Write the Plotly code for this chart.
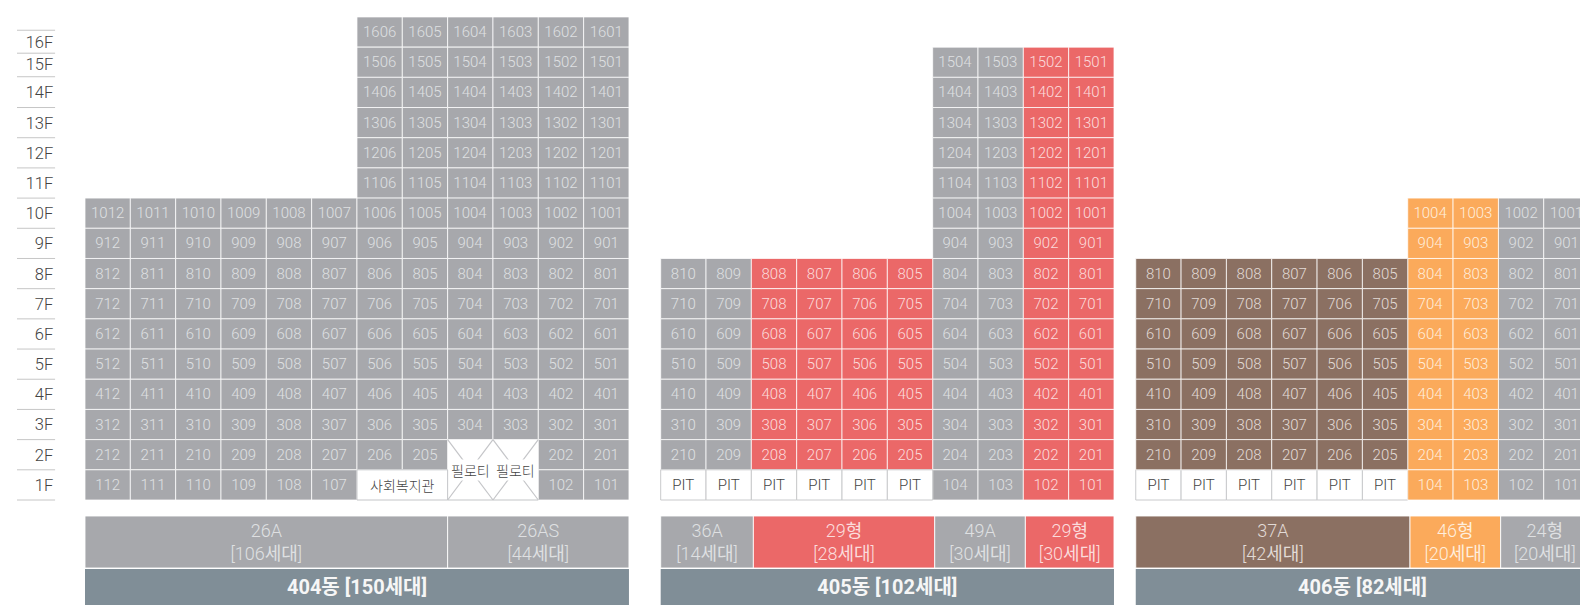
import plotly.graph_objects as go

# ---------- data ----------
B404_ROWS = {
    16: ["", "", "", "", "", "", "1606", "1605", "1604", "1603", "1602", "1601"],
    15: ["", "", "", "", "", "", "1506", "1505", "1504", "1503", "1502", "1501"],
    14: ["", "", "", "", "", "", "1406", "1405", "1404", "1403", "1402", "1401"],
    13: ["", "", "", "", "", "", "1306", "1305", "1304", "1303", "1302", "1301"],
    12: ["", "", "", "", "", "", "1206", "1205", "1204", "1203", "1202", "1201"],
    11: ["", "", "", "", "", "", "1106", "1105", "1104", "1103", "1102", "1101"],
    10: ["1012", "1011", "1010", "1009", "1008", "1007", "1006", "1005", "1004", "1003", "1002", "1001"],
    9: ["912", "911", "910", "909", "908", "907", "906", "905", "904", "903", "902", "901"],
    8: ["812", "811", "810", "809", "808", "807", "806", "805", "804", "803", "802", "801"],
    7: ["712", "711", "710", "709", "708", "707", "706", "705", "704", "703", "702", "701"],
    6: ["612", "611", "610", "609", "608", "607", "606", "605", "604", "603", "602", "601"],
    5: ["512", "511", "510", "509", "508", "507", "506", "505", "504", "503", "502", "501"],
    4: ["412", "411", "410", "409", "408", "407", "406", "405", "404", "403", "402", "401"],
    3: ["312", "311", "310", "309", "308", "307", "306", "305", "304", "303", "302", "301"],
    2: ["212", "211", "210", "209", "208", "207", "206", "205", "", "", "202", "201"],
    1: ["112", "111", "110", "109", "108", "107", "", "", "", "", "102", "101"],
}
B404_TYPES = ["gray"] * 12

B405_ROWS = {
    15: ["", "", "", "", "", "", "1504", "1503", "1502", "1501"],
    14: ["", "", "", "", "", "", "1404", "1403", "1402", "1401"],
    13: ["", "", "", "", "", "", "1304", "1303", "1302", "1301"],
    12: ["", "", "", "", "", "", "1204", "1203", "1202", "1201"],
    11: ["", "", "", "", "", "", "1104", "1103", "1102", "1101"],
    10: ["", "", "", "", "", "", "1004", "1003", "1002", "1001"],
    9: ["", "", "", "", "", "", "904", "903", "902", "901"],
    8: ["810", "809", "808", "807", "806", "805", "804", "803", "802", "801"],
    7: ["710", "709", "708", "707", "706", "705", "704", "703", "702", "701"],
    6: ["610", "609", "608", "607", "606", "605", "604", "603", "602", "601"],
    5: ["510", "509", "508", "507", "506", "505", "504", "503", "502", "501"],
    4: ["410", "409", "408", "407", "406", "405", "404", "403", "402", "401"],
    3: ["310", "309", "308", "307", "306", "305", "304", "303", "302", "301"],
    2: ["210", "209", "208", "207", "206", "205", "204", "203", "202", "201"],
    1: ["PIT", "PIT", "PIT", "PIT", "PIT", "PIT", "104", "103", "102", "101"],
}
B405_TYPES = ["gray", "gray", "red", "red", "red", "red", "gray", "gray", "red", "red"]

B406_ROWS = {
    10: ["", "", "", "", "", "", "1004", "1003", "1002", "1001"],
    9: ["", "", "", "", "", "", "904", "903", "902", "901"],
    8: ["810", "809", "808", "807", "806", "805", "804", "803", "802", "801"],
    7: ["710", "709", "708", "707", "706", "705", "704", "703", "702", "701"],
    6: ["610", "609", "608", "607", "606", "605", "604", "603", "602", "601"],
    5: ["510", "509", "508", "507", "506", "505", "504", "503", "502", "501"],
    4: ["410", "409", "408", "407", "406", "405", "404", "403", "402", "401"],
    3: ["310", "309", "308", "307", "306", "305", "304", "303", "302", "301"],
    2: ["210", "209", "208", "207", "206", "205", "204", "203", "202", "201"],
    1: ["PIT", "PIT", "PIT", "PIT", "PIT", "PIT", "104", "103", "102", "101"],
}
B406_TYPES = ["brown"] * 6 + ["orange", "orange", "gray", "gray"]

FLOOR_LABELS = ["16F", "15F", "14F", "13F", "12F", "11F", "10F", "9F", "8F", "7F", "6F", "5F", "4F", "3F", "2F", "1F"]
FLOOR_LABEL_POS = [15.11, 14.38, 13.45, 12.44, 11.44, 10.44, 9.44, 8.44, 7.44, 6.44, 5.44, 4.44, 3.44, 2.44, 1.44, 0.44]
FLOOR_RULE_POS = [15.56, 14.8, 14.02, 13, 12, 11, 10, 9, 8, 7, 6, 5, 4, 3, 2, 1, 0]

B404_TYPE_BAND = [("26A<br>[106세대]", 8, "gray"), ("26AS<br>[44세대]", 4, "gray")]
B405_TYPE_BAND = [("36A<br>[14세대]", 2, "gray"), ("29형<br>[28세대]", 4, "red"),
                  ("49A<br>[30세대]", 2, "gray"), ("29형<br>[30세대]", 2, "red")]
B406_TYPE_BAND = [("37A<br>[42세대]", 6, "brown"), ("46형<br>[20세대]", 2, "orange"), ("24형<br>[20세대]", 2, "gray")]
BUILDING_NAMES = ["404동 [150세대]", "405동 [102세대]", "406동 [82세대]"]

# ---------- style / layout ----------
COLORS = {"gray": "#a7a8ac", "red": "#eb6868", "brown": "#8b7062", "orange": "#fbaa5b", "white": "#ffffff"}
TEXT = {"gray": "#dfe0e2", "red": "#fbdcdc", "brown": "#e2dbd6", "orange": "#ffeedd"}
SLATE = "#808e97"
FONT = "'Roboto Light', Roboto, 'Noto Sans CJK KR', sans-serif"
BFONT = "Roboto, 'Noto Sans CJK KR', sans-serif"
KFONT = "'Noto Sans CJK KR', sans-serif"

# building start column and the small offset of its inner type-band boundaries
BUILDINGS = [(0.0, B404_ROWS, B404_TYPES, B404_TYPE_BAND, 0.0),
             (12.7, B405_ROWS, B405_TYPES, B405_TYPE_BAND, 0.045),
             (23.18, B406_ROWS, B406_TYPES, B406_TYPE_BAND, 0.05)]
PX_COL = 45.33
PX_FLOOR = 30.19
W, H = 1580, 606
X_RANGE = [-85 / PX_COL, (W - 85) / PX_COL]
Y_RANGE = [-(H - 500) / PX_FLOOR, 500 / PX_FLOOR]
BAND_TOP, BAND_BOT = -(516 - 500) / PX_FLOOR, -(568 - 500) / PX_FLOOR
NAME_TOP, NAME_BOT = -(569 - 500) / PX_FLOOR, -(605 - 500) / PX_FLOOR

fig = go.Figure()

cells = {}
def add_cell(kind, x, base, label):
    c = cells.setdefault(kind, {"x": [], "base": [], "text": []})
    c["x"].append(x); c["base"].append(base); c["text"].append(label)

for start, rows, types, _, _ in BUILDINGS:
    for floor, labels in rows.items():
        for col, label in enumerate(labels):
            if not label:
                continue
            kind = "white" if label == "PIT" else types[col]
            add_cell(kind, start + col + 0.5, floor - 1, label)

for kind, c in cells.items():
    white = kind == "white"
    fig.add_trace(go.Bar(
        x=c["x"], y=[1] * len(c["x"]), base=c["base"], width=1, text=c["text"],
        marker=dict(color=COLORS[kind], line=dict(color="#c9cacc" if white else "rgba(255,255,255,0.75)", width=1)),
        textposition="inside", insidetextanchor="middle", textangle=0, constraintext="none",
        textfont=dict(family=FONT, size=15, color="#444444" if white else TEXT[kind]),
        hoverinfo="skip", showlegend=False))

# community hall cell on 404 (columns 6-7, floor 1)
fig.add_trace(go.Bar(
    x=[7.0], y=[1], base=[0], width=2, text=["사회복지관"],
    marker=dict(color="#ffffff", line=dict(color="#c4c5c8", width=1)),
    textposition="inside", insidetextanchor="middle", textangle=0, constraintext="none",
    textfont=dict(family=KFONT, size=14, weight=300, color="#444444"),
    hoverinfo="skip", showlegend=False))

# pilotis cells on 404 (columns 8 and 9, floors 1-2): two crossed boxes with a base line
PILOTI_COLS = [8, 9]
px_, py_ = [], []
for c in PILOTI_COLS:
    px_ += [c, c + 1, None, c + 1, c, None, c, c + 1, None]
    py_ += [2, 0, None, 2, 0, None, 0, 0, None]
fig.add_trace(go.Scatter(x=px_, y=py_, mode="lines", line=dict(color="#c4c5c8", width=1.2),
                         hoverinfo="skip", showlegend=False))
for c in PILOTI_COLS:
    fig.add_annotation(x=c + 0.5, y=1, text="필로티", showarrow=False, bgcolor="#ffffff", borderpad=0,
                       font=dict(family=KFONT, size=14, weight=300, color="#444444"))

# type bands and building bands
for (start, rows, types, band, shift), name in zip(BUILDINGS, BUILDING_NAMES):
    total = len(types)
    pos = 0
    for label, span, kind in band:
        left = start + (pos + shift if pos else 0)
        right = start + (pos + span + shift if pos + span < total else total)
        fig.add_trace(go.Bar(
            x=[(left + right) / 2], y=[BAND_TOP - BAND_BOT], base=[BAND_BOT], width=right - left, text=[label],
            marker=dict(color=COLORS[kind], line=dict(color="rgba(255,255,255,0.85)", width=1)),
            textposition="inside", insidetextanchor="middle", textangle=0, constraintext="none",
            textfont=dict(family=FONT, size=18, color=TEXT[kind]),
            hoverinfo="skip", showlegend=False))
        pos += span
    fig.add_trace(go.Bar(
        x=[start + total / 2], y=[NAME_TOP - NAME_BOT], base=[NAME_BOT], width=total, text=[name],
        marker=dict(color=SLATE, line=dict(width=0)),
        textposition="inside", insidetextanchor="middle", textangle=0, constraintext="none",
        textfont=dict(family=BFONT, size=20, weight=700, color="#f6f6f6"),
        hoverinfo="skip", showlegend=False))

# floor scale
rx, ry = [], []
for p in FLOOR_RULE_POS:
    rx += [-1.5, -0.66, None]
    ry += [p, p, None]
fig.add_trace(go.Scatter(x=rx, y=ry, mode="lines", line=dict(color="#c6c6c6", width=1),
                         hoverinfo="skip", showlegend=False))
fig.add_trace(go.Scatter(x=[-0.7] * len(FLOOR_LABELS), y=FLOOR_LABEL_POS, mode="text", text=FLOOR_LABELS,
                         textposition="middle left",
                         textfont=dict(family=FONT, size=16.5, color="#444444"),
                         hoverinfo="skip", showlegend=False))

fig.update_layout(
    width=W, height=H, margin=dict(l=0, r=0, t=0, b=0), autosize=False,
    barmode="overlay", paper_bgcolor="#ffffff", plot_bgcolor="#ffffff",
    xaxis=dict(range=X_RANGE, visible=False, fixedrange=True),
    yaxis=dict(range=Y_RANGE, visible=False, fixedrange=True),
)
fig.write_html("out.html", config={"displayModeBar": False},
               post_script="document.body.style.margin='0';document.body.style.overflow='hidden';")
